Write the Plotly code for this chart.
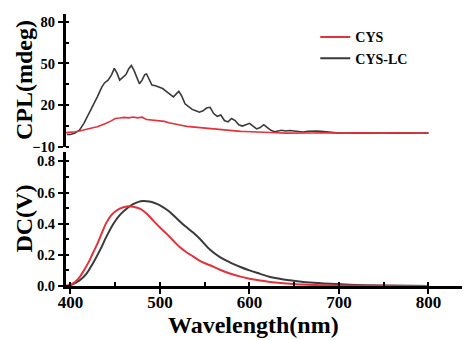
import plotly.graph_objects as go

# ---------------- data ----------------
# CPL (top panel)
cpl_lc_wl = [396, 400, 405, 410, 415, 420, 425, 430, 435, 438, 442, 446, 449, 452, 455, 458, 462, 465, 468,
             471, 474, 477, 480, 483, 485, 488, 491, 495, 499, 503, 507, 511, 515, 518, 521, 524, 528, 532,
             536, 540, 544, 548, 552, 556, 560, 564, 568, 572, 576, 580, 584, 588, 592, 596, 600, 604, 608,
             612, 616, 620, 624, 628, 632, 636, 640, 645, 650, 655, 660, 665, 670, 675, 680, 685, 690, 700,
             720, 750, 780, 800]
cpl_lc = [-1.0, -1.0, 0.0, 2.0, 7.0, 13.0, 19.0, 26.0, 33.0, 36.0, 38.0, 42.0, 46.5, 43.0, 38.0, 40.0, 42.0,
          46.0, 48.5, 45.0, 40.0, 35.5, 38.0, 42.0, 42.5, 38.0, 34.5, 34.0, 33.0, 32.0, 30.0, 28.0, 26.0, 28.0,
          30.0, 27.0, 21.0, 19.0, 17.0, 16.0, 15.0, 16.0, 18.0, 18.5, 14.0, 12.0, 13.0, 9.0, 8.0, 10.5, 9.0,
          6.0, 5.0, 6.0, 7.0, 5.0, 3.0, 4.0, 6.0, 4.0, 2.0, 1.0, 1.5, 2.0, 1.5, 1.8, 1.5, 1.0, 0.8, 1.2, 1.5,
          1.5, 1.2, 1.0, 0.3, 0.0, 0.0, 0.0, 0.0, 0.0]

cpl_cys_wl = [395, 400, 405, 410, 415, 420, 425, 430, 435, 440, 445, 450, 455, 460, 465, 470, 475, 480, 485,
              490, 495, 500, 505, 510, 515, 520, 525, 530, 535, 540, 545, 550, 555, 560, 565, 570, 575, 580,
              585, 590, 595, 600, 605, 610, 615, 620, 630, 640, 650, 660, 670, 680, 690, 700, 710, 720, 730,
              740, 750, 760, 770, 780, 790, 800]
cpl_cys = [0.3, 0.5, 1.0, 1.5, 2.4, 3.0, 3.8, 4.5, 5.5, 7.0, 8.6, 10.5, 10.8, 11.3, 10.9, 11.5, 10.9, 11.4,
           9.8, 9.5, 9.2, 8.6, 8.4, 7.4, 6.6, 5.8, 5.5, 4.8, 4.5, 3.8, 3.5, 3.1, 2.9, 2.5, 2.4, 2.0, 1.9, 1.6,
           1.5, 1.2, 1.1, 0.9, 0.8, 0.6, 0.4, 0.2, 0.2, 0.0, 0.2, 0.0, 0.1, 0.2, 0.0, 0.2, 0.0, 0.2, 0.0, 0.1,
           0.0, 0.2, 0.0, 0.1, 0.0, 0.1]

# DC (bottom panel)
dc_cys_wl = [395, 400, 405, 410, 415, 420, 425, 430, 435, 440, 445, 450, 455, 463, 470, 478, 485, 492, 500,
             507, 515, 522, 530, 537, 545, 556, 567, 578, 590, 600, 612, 623, 635, 645, 660, 680, 700, 750, 800]
dc_cys = [0.002, 0.008, 0.025, 0.055, 0.1, 0.15, 0.21, 0.27, 0.34, 0.405, 0.45, 0.478, 0.497, 0.511, 0.508,
          0.495, 0.465, 0.423, 0.375, 0.338, 0.29, 0.25, 0.215, 0.19, 0.16, 0.133, 0.104, 0.08, 0.06, 0.047,
          0.035, 0.026, 0.019, 0.015, 0.009, 0.005, 0.003, 0.001, 0.0]

dc_lc_wl = [398, 403, 410, 418, 425, 433, 440, 448, 455, 463, 470, 476, 481, 488, 494, 500, 510, 519, 528,
            537, 545, 556, 567, 578, 590, 600, 612, 623, 635, 645, 656, 668, 690, 712, 750, 800]
dc_lc = [0.003, 0.012, 0.035, 0.08, 0.145, 0.23, 0.315, 0.4, 0.455, 0.498, 0.525, 0.54, 0.545, 0.542, 0.533,
         0.518, 0.48, 0.432, 0.385, 0.343, 0.3, 0.232, 0.185, 0.152, 0.122, 0.1, 0.078, 0.058, 0.045, 0.037,
         0.029, 0.022, 0.014, 0.008, 0.003, 0.0]

x_ticks = [400, 500, 600, 700, 800]
cpl_ticks = [-10, 20, 50, 80]
dc_ticks = [0.0, 0.2, 0.4, 0.6, 0.8]

RED = "#e2323c"
BLACK = "#3a3a3a"
FONT = "Liberation Serif"

fig = go.Figure()
# black first so red sits on top; legend reversed to list CYS first
fig.add_trace(go.Scatter(x=dc_lc_wl, y=dc_lc, mode="lines", name="CYS-LC", line=dict(color=BLACK, width=2, shape="spline"),
                         xaxis="x", yaxis="y"))
fig.add_trace(go.Scatter(x=dc_cys_wl, y=dc_cys, mode="lines", name="CYS", line=dict(color=RED, width=2, shape="spline"),
                         xaxis="x", yaxis="y"))
fig.add_trace(go.Scatter(x=cpl_lc_wl, y=cpl_lc, mode="lines", name="CYS-LC", showlegend=False,
                         line=dict(color=BLACK, width=1.6), xaxis="x2", yaxis="y2"))
fig.add_trace(go.Scatter(x=cpl_cys_wl, y=cpl_cys, mode="lines", name="CYS", showlegend=False,
                         line=dict(color=RED, width=1.6), xaxis="x2", yaxis="y2"))

xtickfont = dict(family=FONT, size=17, color="black", weight="bold")
ytickfont = dict(family=FONT, size=14.5, color="black", weight="bold")
titlefont = dict(family=FONT, size=24, color="black", weight="bold")
xrange = [395, 846.4]

fig.update_layout(
    width=462, height=332,
    margin=dict(l=58, r=0, t=6, b=54),
    paper_bgcolor="white", plot_bgcolor="white",
    font=dict(family=FONT, color="black"),
    showlegend=True,
    legend=dict(x=0.617, y=0.973, xanchor="left", yanchor="top", traceorder="reversed",
                bgcolor="rgba(0,0,0,0)", font=dict(family=FONT, size=14, color="black", weight="bold"),
                tracegroupgap=0, itemwidth=30),
    xaxis=dict(domain=[0, 1], anchor="y", range=xrange, tickvals=x_ticks, showgrid=False, zeroline=False,
               automargin=False, ticklabelstandoff=-6,
               showline=True, linewidth=3, linecolor="black", ticks="outside", ticklen=5, tickwidth=2,
               tickcolor="black", tickfont=xtickfont,
               minor=dict(dtick=50, tick0=400, ticks="inside", ticklen=4, tickwidth=2, tickcolor="black")),
    xaxis2=dict(domain=[0, 1], anchor="y2", matches="x", range=xrange, showgrid=False, zeroline=False,
                automargin=False, showline=False, showticklabels=False, ticks=""),
    yaxis=dict(domain=[0, 0.4926], anchor="x", range=[0, 0.86], tickvals=dc_ticks, tickformat=".1f",
               automargin=False,
               showgrid=False, zeroline=False, showline=True, linewidth=3, linecolor="black",
               ticks="outside", ticklen=5, tickwidth=2, tickcolor="black", tickfont=ytickfont,
               minor=dict(dtick=0.1, tick0=0, ticks="inside", ticklen=3, tickwidth=2, tickcolor="black")),
    yaxis2=dict(domain=[0.511, 1], anchor="x2", range=[-10, 85.5], tickvals=cpl_ticks, showgrid=False,
                automargin=False,
                zeroline=False, showline=True, linewidth=3, linecolor="black",
                ticks="outside", ticklen=5, tickwidth=2, tickcolor="black", tickfont=ytickfont,
                minor=dict(dtick=15, tick0=-10, ticks="inside", ticklen=3, tickwidth=2, tickcolor="black")),
    annotations=[
        dict(text="CPL(mdeg)", xref="paper", yref="paper", x=-0.105, y=0.7555, textangle=-90,
             xanchor="center", yanchor="middle", showarrow=False, font=titlefont),
        dict(text="DC(V)", xref="paper", yref="paper", x=-0.105, y=0.2463, textangle=-90,
             xanchor="center", yanchor="middle", showarrow=False, font=titlefont),
        dict(text="Wavelength(nm)", xref="paper", yref="paper", x=0.463, y=-0.143,
             xanchor="center", yanchor="middle", showarrow=False, font=titlefont),
    ],
)

fig.write_html("out.html")
